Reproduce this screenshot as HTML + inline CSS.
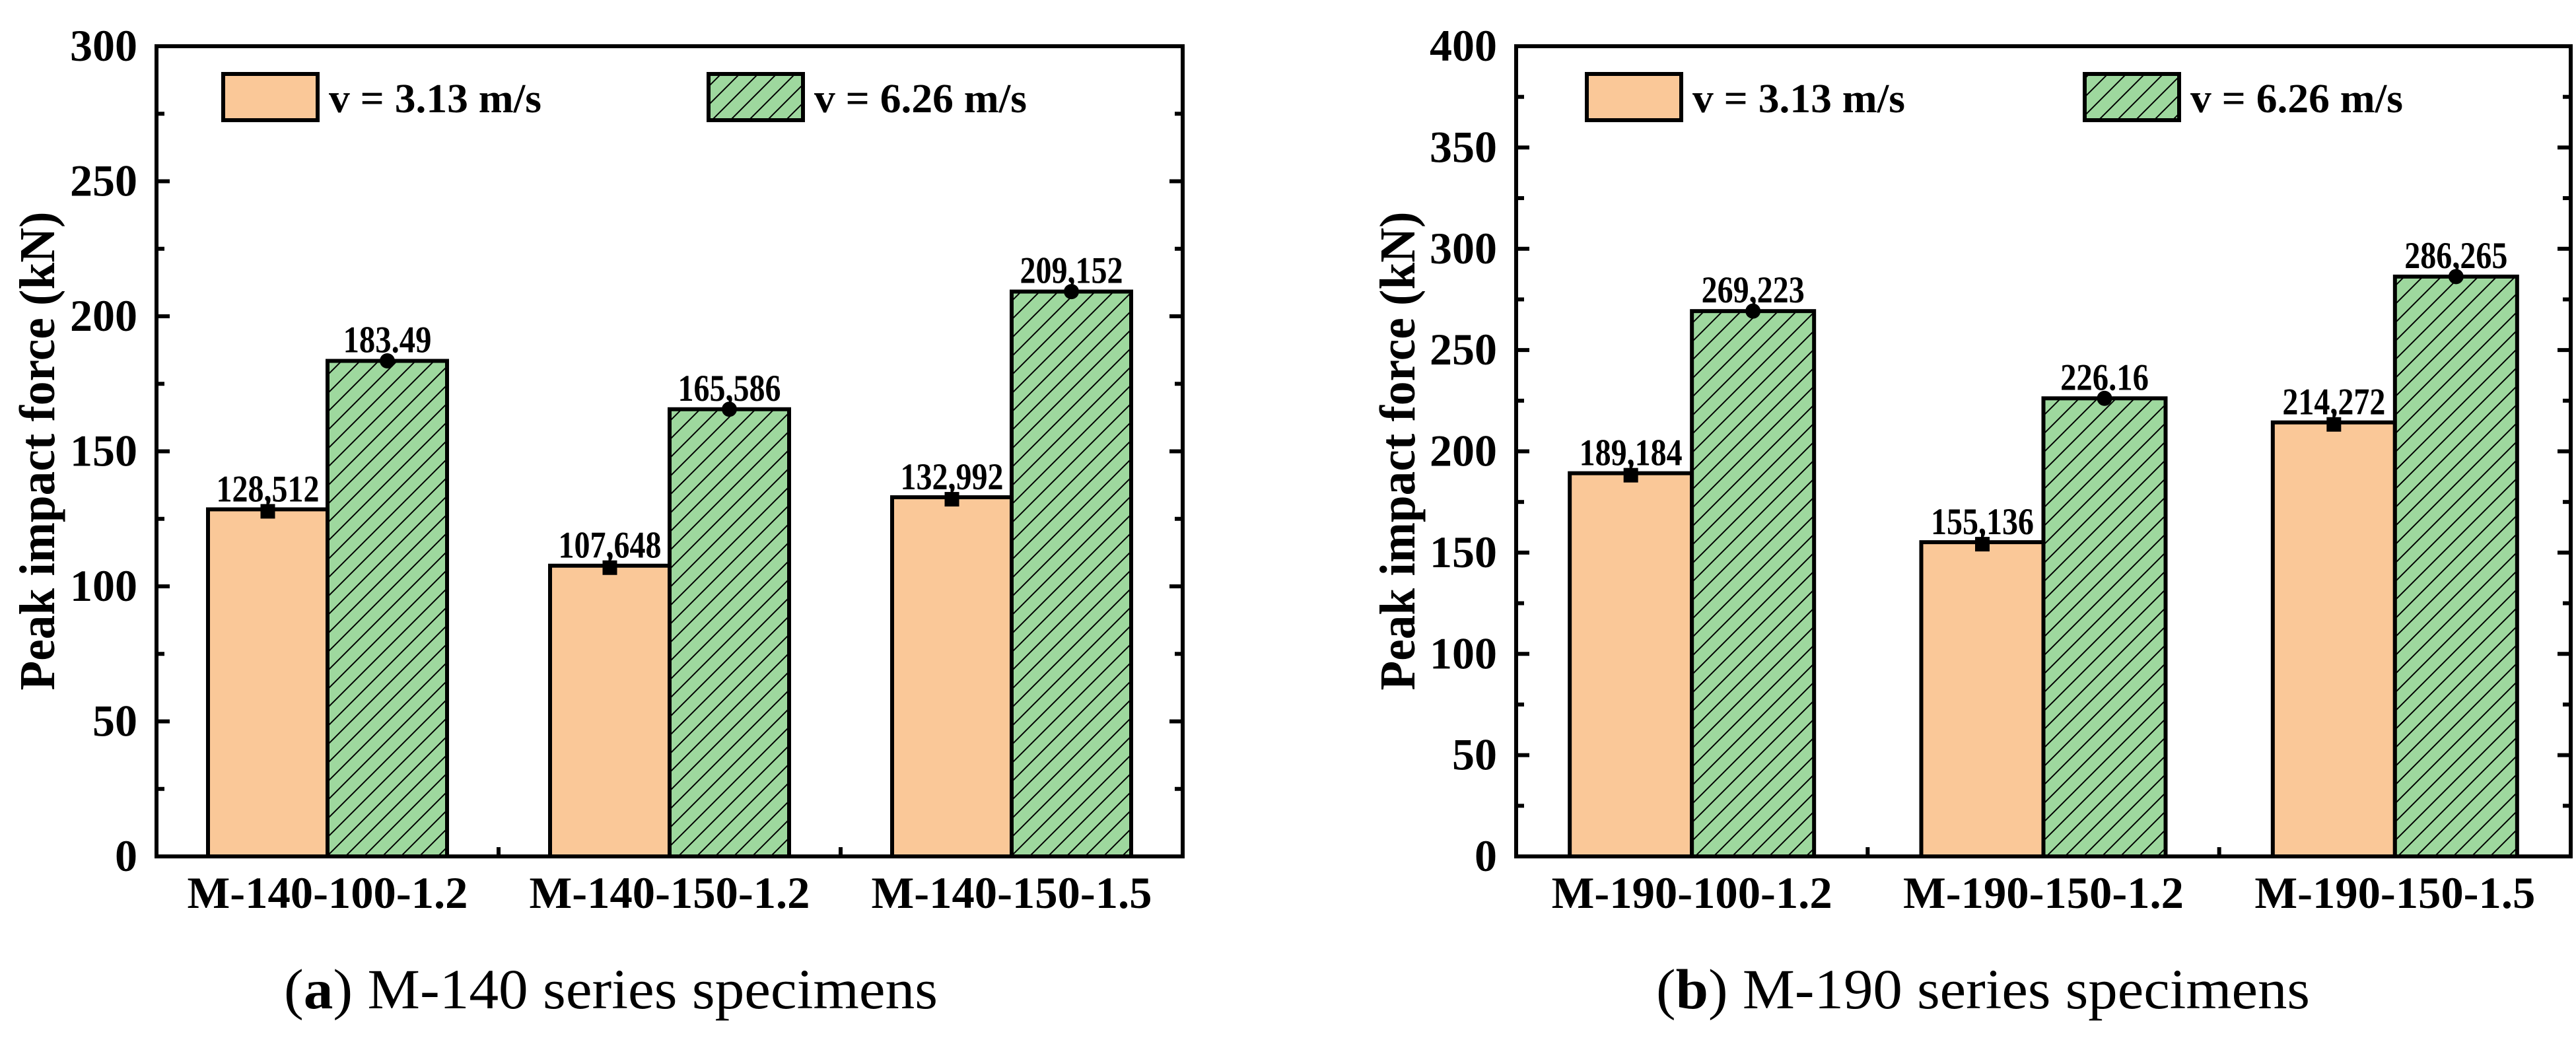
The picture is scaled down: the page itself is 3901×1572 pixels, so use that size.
<!DOCTYPE html>
<html><head><meta charset="utf-8">
<style>
html,body{margin:0;padding:0;background:#fff;}
svg{display:block;}
text{font-family:"Liberation Serif",serif;fill:#000;}
</style></head>
<body>
<svg id="fig" width="3901" height="1572" viewBox="0 0 3901 1572" xmlns="http://www.w3.org/2000/svg">
<defs>
<pattern id="hatch" patternUnits="userSpaceOnUse" width="28" height="28">
<rect width="28" height="28" fill="#9ed89e"/>
<path d="M-7,7 L7,-7 M0,28 L28,0 M21,35 L35,21" stroke="#000" stroke-width="2"/>
</pattern>
</defs>
</svg>
<script>
// Panel (a) data
const catsA = ["M-140-100-1.2","M-140-150-1.2","M-140-150-1.5"];
const slowA = [128.512,107.648,132.992];
const fastA = [183.49,165.586,209.152];
const slowLabelsA = ["128,512","107,648","132,992"];
const fastLabelsA = ["183.49","165,586","209,152"];
const ticksA = [0,50,100,150,200,250,300];
// Panel (b) data
const catsB = ["M-190-100-1.2","M-190-150-1.2","M-190-150-1.5"];
const slowB = [189.184,155.136,214.272];
const fastB = [269.223,226.16,286.265];
const slowLabelsB = ["189,184","155,136","214,272"];
const fastLabelsB = ["269,223","226.16","286,265"];
const ticksB = [0,50,100,150,200,250,300,350,400];
const legendNames = ["v = 3.13 m/s","v = 6.26 m/s"];

const NS="http://www.w3.org/2000/svg";
const svg=document.getElementById('fig');
function mk(tag,attrs,parent){const e=document.createElementNS(NS,tag);for(const k in attrs)e.setAttribute(k,attrs[k]);(parent||svg).appendChild(e);return e;}

function panel(cfg){
  const g=mk('g',{});
  
  
  const L=cfg.left,R=cfg.right,T=70,B=1297;
  const ymax=cfg.ticks[cfg.ticks.length-1];
  const y=v=>B-(v/ymax)*(B-T);
  const n=cfg.cats.length, step=(R-L)/n;
  const cx=i=>L+step*(i+0.5);
  const bw=cfg.bw;
  // bars
  cfg.cats.forEach((c,i)=>{
    const b1=mk('rect',{x:cx(i)-bw,y:y(cfg.slow[i]),width:bw,height:B-y(cfg.slow[i]),fill:'#fac898',stroke:'#000','stroke-width':6},g);
    
    
    const b2=mk('rect',{x:cx(i),y:y(cfg.fast[i]),width:bw,height:B-y(cfg.fast[i]),fill:'url(#hatch)',stroke:'#000','stroke-width':6},g);
    
    
    const sx=cx(i)-bw/2, fx=cx(i)+bw/2;
    const m1=mk('rect',{x:sx-11,y:y(cfg.slow[i])-8,width:22,height:22,fill:'#000'},g);
    
    
    mk('line',{x1:sx,x2:sx,y1:y(cfg.slow[i])-14,y2:y(cfg.slow[i]),stroke:'#000','stroke-width':4},g);
    const m2=mk('circle',{cx:fx,cy:y(cfg.fast[i]),r:11.5,fill:'#000'},g);
    
    
    const t1=mk('text',{x:sx,y:y(cfg.slow[i])-12,'text-anchor':'middle','font-size':57,'font-weight':'bold',textLength:156,lengthAdjust:'spacingAndGlyphs'},g);
    t1.textContent=cfg.slowLabels[i];
    
    
    const t2=mk('text',{x:fx,y:y(cfg.fast[i])-13,'text-anchor':'middle','font-size':57,'font-weight':'bold',textLength:cfg.fastLabels[i].length*22.3,lengthAdjust:'spacingAndGlyphs'},g);
    t2.textContent=cfg.fastLabels[i];
    
    
    const xl=mk('text',{x:cx(i),y:1375,'text-anchor':'middle','font-size':68,'font-weight':'bold',textLength:425,lengthAdjust:'spacingAndGlyphs'},g);
    xl.textContent=c;
    
    
  });
  // y ticks
  cfg.ticks.forEach((v,i)=>{
    mk('line',{x1:L,x2:L+20,y1:y(v),y2:y(v),stroke:'#000','stroke-width':6},g);
    mk('line',{x1:R,x2:R-20,y1:y(v),y2:y(v),stroke:'#000','stroke-width':6},g);
    if(i<cfg.ticks.length-1){const m=(v+cfg.ticks[i+1])/2;
      mk('line',{x1:L,x2:L+12,y1:y(m),y2:y(m),stroke:'#000','stroke-width':6},g);
      mk('line',{x1:R,x2:R-12,y1:y(m),y2:y(m),stroke:'#000','stroke-width':6},g);}
    const t=mk('text',{x:L-29,y:y(v)+22,'text-anchor':'end','font-size':68,'font-weight':'bold'},g);
    t.textContent=v;
    
    
  });
  for(let i=1;i<n;i++) mk('line',{x1:L+step*i,x2:L+step*i,y1:B,y2:B-14,stroke:'#000','stroke-width':6},g);
  const frame=mk('rect',{x:L,y:T,width:R-L,height:B-T,fill:'none',stroke:'#000','stroke-width':6},g);
  
  
  // y title
  const yt=mk('text',{x:0,y:0,transform:`translate(${cfg.ytx},683) rotate(-90)`,'text-anchor':'middle','font-size':76,'font-weight':'bold',textLength:725,lengthAdjust:'spacingAndGlyphs'},g);
  yt.textContent='Peak impact force (kN)';
  
  
  // legend
  const lg=mk('g',{},g);
  
  
  const lb1=mk('rect',{x:cfg.leg1,y:112,width:143,height:70,fill:'#fac898',stroke:'#000','stroke-width':6},lg);
  
  
  const lt1=mk('text',{x:cfg.leg1+160,y:170,'font-size':62,'font-weight':'bold',textLength:322,lengthAdjust:'spacingAndGlyphs'},lg);
  lt1.textContent=legendNames[0];
  
  
  const lb2=mk('rect',{x:cfg.leg2,y:112,width:143,height:70,fill:'url(#hatch)',stroke:'#000','stroke-width':6},lg);
  
  
  const lt2=mk('text',{x:cfg.leg2+160,y:170,'font-size':62,'font-weight':'bold',textLength:322,lengthAdjust:'spacingAndGlyphs'},lg);
  lt2.textContent=legendNames[1];
  
  
  // caption
  const cap=mk('text',{x:cfg.capx,y:1527,'text-anchor':'middle','font-size':86,textLength:990,lengthAdjust:'spacingAndGlyphs'},g);
  cap.innerHTML='(<tspan font-weight="bold">'+cfg.letter+'</tspan>) '+cfg.caption;
  
  
}
panel({name:'chart-a',left:237,right:1791,bw:181,cats:catsA,slow:slowA,fast:fastA,slowLabels:slowLabelsA,fastLabels:fastLabelsA,ticks:ticksA,ytx:82,leg1:338,leg2:1073,capx:925,letter:'a',caption:'M-140 series specimens'});
panel({name:'chart-b',left:2296,right:3893,bw:185,cats:catsB,slow:slowB,fast:fastB,slowLabels:slowLabelsB,fastLabels:fastLabelsB,ticks:ticksB,ytx:2142,leg1:2403,leg2:3157,capx:3003,letter:'b',caption:'M-190 series specimens'});
</script>
</body></html>
